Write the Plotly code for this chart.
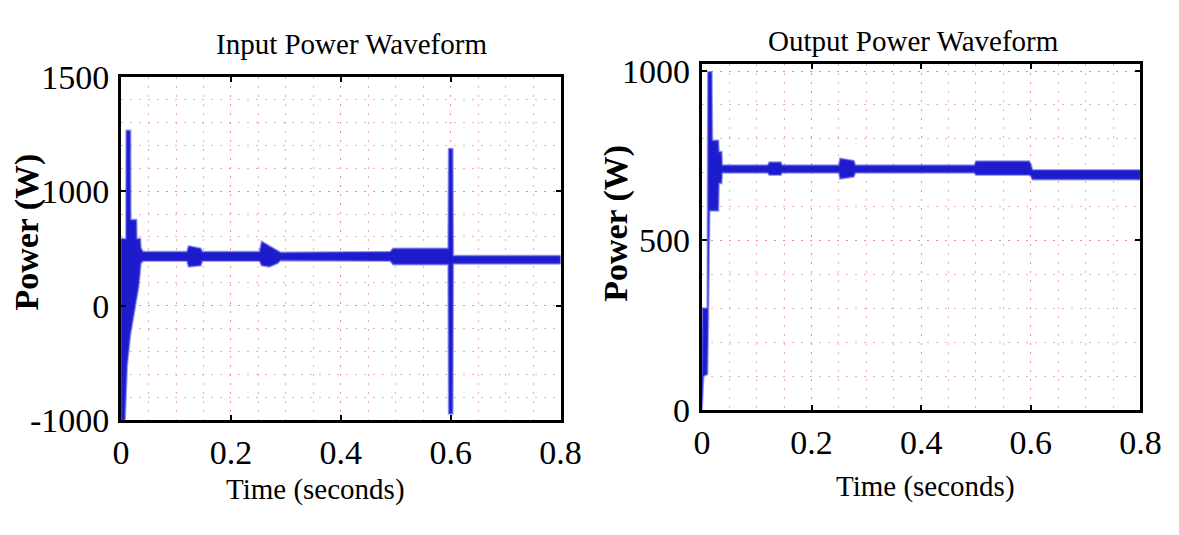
import plotly.graph_objects as go

# ---------------- data ----------------
# Input power: envelope of the (thick, rippling) waveform, W
in_t = [0.000, 0.007, 0.009, 0.0095, 0.011, 0.017, 0.0175, 0.021, 0.028, 0.0285, 0.032,
        0.035, 0.036, 0.040, 0.120, 0.123, 0.145, 0.148, 0.252, 0.256, 0.270, 0.285, 0.290,
        0.490, 0.495, 0.5955, 0.5965, 0.6035, 0.6045, 0.800]
in_upper = [585, 585, 585, 1530, 1530, 1530, 750, 750, 750, 585, 585,
            585, 504, 470, 470, 520, 500, 470, 470, 560, 520, 480, 465,
            470, 500, 500, 1370, 1370, 435, 435]
in_lower = [-1000, -1000, -800, -760, -520, -250, -240, -140, 60, 70, 170,
            300, 370, 390, 390, 340, 350, 390, 390, 350, 340, 370, 395,
            390, 360, 360, -945, -945, 365, 365]

# Output power: envelope of the waveform, W
out_t = [0.000, 0.001, 0.003, 0.010, 0.011, 0.014, 0.018, 0.019, 0.030, 0.031, 0.036, 0.037,
         0.120, 0.123, 0.144, 0.146, 0.250, 0.252, 0.277, 0.280,
         0.497, 0.500, 0.597, 0.600, 0.603, 0.800]
out_upper = [10, 300, 300, 300, 997, 997, 997, 795, 795, 762, 762, 722,
             722, 731, 731, 722, 722, 742, 735, 722,
             722, 734, 734, 725, 708, 708]
out_lower = [0, 0, 100, 105, 200, 588, 588, 588, 588, 669, 669, 700,
             700, 693, 693, 700, 700, 682, 688, 700,
             700, 693, 693, 690, 680, 680]

x_ticks = [0, 0.2, 0.4, 0.6, 0.8]
x_tick_text = ["0", "0.2", "0.4", "0.6", "0.8"]
in_y_ticks = [-1000, 0, 1000, 2000]
in_y_tick_text = ["-1000", "0", "1000", "1500"]
out_y_ticks = [0, 500, 1000]
out_y_tick_text = ["0", "500", "1000"]

# ---------------- styling ----------------
W, H = 1179, 535
BLUE = "rgb(28,28,205)"
EDGE = "rgba(80,80,230,0.55)"
GRID = "rgba(230,120,120,0.6)"
GRID_DASH = "2px,7px"
SERIF = "Liberation Serif"


def px(x):
    return x / W


def py(y):
    return 1 - y / H


fig = go.Figure()

fig.add_trace(go.Scatter(
    x=in_t + in_t[::-1], y=in_upper + in_lower[::-1],
    fill="toself", fillcolor=BLUE, mode="lines",
    line=dict(color=EDGE, width=2), xaxis="x", yaxis="y",
    hoverinfo="skip", showlegend=False))

fig.add_trace(go.Scatter(
    x=out_t + out_t[::-1], y=out_upper + out_lower[::-1],
    fill="toself", fillcolor=BLUE, mode="lines",
    line=dict(color=EDGE, width=2), xaxis="x2", yaxis="y2",
    hoverinfo="skip", showlegend=False))

tick_font = dict(family=SERIF, size=34, color="black")


def xaxis_cfg(domain, anchor):
    return dict(
        domain=domain, anchor=anchor, range=[0, 0.8],
        tickvals=x_ticks, ticktext=x_tick_text, tickfont=tick_font,
        showline=True, linewidth=3, linecolor="black", mirror="ticks",
        ticks="inside", ticklen=5, tickwidth=1.5, tickcolor="black",
        showgrid=True, gridcolor=GRID, griddash=GRID_DASH, gridwidth=1,
        minor=dict(dtick=0.05, tick0=0, showgrid=True, gridcolor=GRID,
                   griddash=GRID_DASH, gridwidth=1, ticks=""),
        zeroline=False, fixedrange=True)


def yaxis_cfg(domain, anchor, rng, tv, tt, minor_dtick, tick0):
    return dict(
        domain=domain, anchor=anchor, range=rng,
        tickvals=tv, ticktext=tt, tickfont=tick_font,
        showline=True, linewidth=3, linecolor="black", mirror="ticks",
        ticks="inside", ticklen=5, tickwidth=1.5, tickcolor="black",
        showgrid=True, gridcolor=GRID, griddash=GRID_DASH, gridwidth=1,
        minor=dict(dtick=minor_dtick, tick0=tick0, showgrid=True, gridcolor=GRID,
                   griddash=GRID_DASH, gridwidth=1, ticks=""),
        zeroline=False, fixedrange=True, ticklabelstandoff=2)


fig.update_layout(
    width=W, height=H,
    margin=dict(l=0, r=0, t=0, b=0),
    paper_bgcolor="white", plot_bgcolor="white",
    xaxis=xaxis_cfg([px(115), px(566)], "y"),
    yaxis=yaxis_cfg([py(432), py(63)], "x", [-1000, 2000],
                    in_y_ticks, in_y_tick_text, 200, -1000),
    xaxis2=xaxis_cfg([px(711), px(1161)], "y2"),
    yaxis2=yaxis_cfg([py(421), py(49)], "x2", [0, 1022],
                     out_y_ticks, out_y_tick_text, 100, 0),
    showlegend=False,
)

title_font = dict(family=SERIF, size=29, color="black")
label_font = dict(family=SERIF, size=29, color="black")
ylab_font = dict(family=SERIF, size=34, color="black")

annos = [
    dict(text="Input Power Waveform", x=px(351), y=py(28), font=title_font),
    dict(text="Output Power Waveform", x=px(928), y=py(25), font=title_font),
    dict(text="Time (seconds)", x=px(315), y=py(507), font=label_font),
    dict(text="Time (seconds)", x=px(940), y=py(503), font=label_font),
    dict(text="<b>Power (W)</b>", x=px(19), y=py(230), font=ylab_font, textangle=-90),
    dict(text="<b>Power (W)</b>", x=px(623), y=py(221), font=ylab_font, textangle=-90),
]
for a in annos:
    fig.add_annotation(xref="paper", yref="paper", showarrow=False,
                       xanchor="center", yanchor="middle", **a)

fig.write_html("out.html")
